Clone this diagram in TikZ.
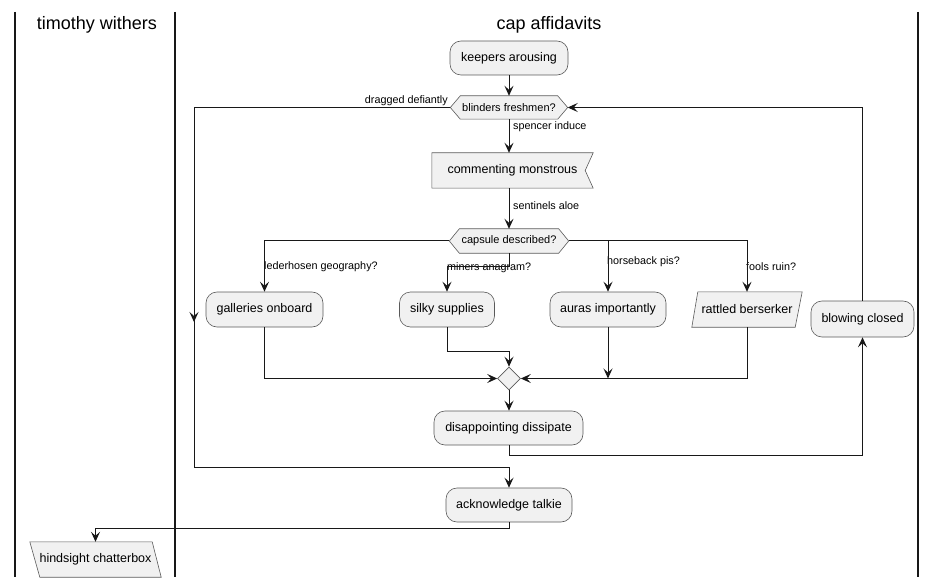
\documentclass[tikz,border=0pt]{standalone}
\usepackage{fontspec}
\setmainfont{Liberation Sans}
\usetikzlibrary{arrows.meta,backgrounds,shapes.geometric}
\definecolor{boxfill}{HTML}{F1F1F1}
\definecolor{boxline}{HTML}{5A5A5A}
\definecolor{ink}{HTML}{181818}
\tikzset{
  lane/.style={draw=ink, line width=1.5pt},
  title/.style={font=\fontsize{18}{21}\selectfont, text=black, inner sep=0pt},
  rbox/.style={draw=boxline, fill=boxfill, line width=0.6pt, rounded corners=11pt,
    inner sep=0pt, font=\fontsize{12.5}{14}\selectfont, text=black},
  ghost/.style={inner sep=0pt, font=\fontsize{12.5}{14}\selectfont, text=black},
  hexlbl/.style={inner sep=0pt, font=\fontsize{11}{13}\selectfont, text=black},
  shapeline/.style={draw=boxline, fill=boxfill, line width=0.6pt},
  lbl/.style={inner sep=1pt, font=\fontsize{10.8}{12}\selectfont, text=black},
  flow/.style={draw=ink, line width=1pt, -{Stealth[length=10pt,width=9pt,inset=4pt]}},
}
\begin{document}
\begin{tikzpicture}[x=1pt,y=-1pt]
\useasboundingbox (0,0) rectangle (937,588);

% swimlanes
\draw[lane] (15,12) -- (15,577);
\draw[lane] (175,12) -- (175,577);
\draw[lane] (918,12) -- (918,577);
\node[title] (t1) at (97,25) {timothy withers};
\node[title] (t2) at (549,25) {cap affidavits};

% nodes
\node[rbox, minimum width=118pt, minimum height=34pt] (keep) at (509,58) {keepers arousing};
\node[hexlbl, minimum width=117pt, minimum height=23pt] (b1) at (509,107.5) {blinders freshmen?};
\node[ghost, minimum width=161pt, minimum height=35pt] (cm) at (512.5,170.5) {commenting monstrous\hspace{8pt}};
\node[hexlbl, minimum width=119pt, minimum height=24pt] (cap) at (509,241) {capsule described?};
\node[rbox, minimum width=117pt, minimum height=35pt] (gal) at (264.5,309.5) {galleries onboard};
\node[rbox, minimum width=95pt, minimum height=35pt] (silk) at (447,309.5) {silky supplies};
\node[rbox, minimum width=116pt, minimum height=35pt] (aur) at (608,309.5) {auras importantly};
\node[ghost, minimum width=110pt, minimum height=35pt] (rat) at (747,309.5) {rattled berserker};
\node[rbox, minimum width=103pt, minimum height=36pt] (blow) at (862.5,319) {blowing closed};
\node[diamond, draw=boxline, fill=boxfill, line width=0.6pt, inner sep=0pt, minimum width=23pt, minimum height=23pt] (mg) at (509,378.5) {};
\node[rbox, minimum width=149pt, minimum height=34pt] (dis) at (508.5,428) {disappointing dissipate};
\node[rbox, minimum width=126pt, minimum height=34pt] (ack) at (509,505) {acknowledge talkie};
\node[ghost, minimum width=131pt, minimum height=35pt] (hind) at (95.5,559.5) {hindsight chatterbox};

% custom outlines behind texts
\begin{scope}[on background layer]
\draw[shapeline] (b1.west) -- ([xshift=10pt]b1.north west) -- ([xshift=-10pt]b1.north east)
  -- (b1.east) -- ([xshift=-10pt]b1.south east) -- ([xshift=10pt]b1.south west) -- cycle;
\draw[shapeline] (cap.west) -- ([xshift=10pt]cap.north west) -- ([xshift=-10pt]cap.north east)
  -- (cap.east) -- ([xshift=-10pt]cap.south east) -- ([xshift=10pt]cap.south west) -- cycle;
\draw[shapeline] (cm.north west) -- (cm.north east) -- ([xshift=-8pt]cm.east)
  -- (cm.south east) -- (cm.south west) -- cycle;
\draw[shapeline] ([xshift=6pt]rat.north west) -- (rat.north east)
  -- ([xshift=-7pt]rat.south east) -- (rat.south west) -- cycle;
\draw[shapeline] (hind.north west) -- ([xshift=-9pt]hind.north east)
  -- (hind.south east) -- ([xshift=10pt]hind.south west) -- cycle;
\end{scope}

% labels
\node[lbl, anchor=base east] (ldrag) at (449,104) {dragged defiantly};
\node[lbl, anchor=west] (lsp) at (512,127) {spencer induce};
\node[lbl, anchor=west] (lsa) at (512,206) {sentinels aloe};
\node[lbl, anchor=west] (lled) at (263,267) {lederhosen geography?};
\node[lbl, anchor=west] (lmin) at (446,268) {miners anagram?};
\node[lbl, anchor=west] (lhor) at (606,262) {horseback pis?};
\node[lbl, anchor=west] (lfoo) at (745,267) {fools ruin?};

% connectors
\coordinate (lt) at (194,107.5);
\coordinate (lm) at (194,322);
\coordinate (lb) at (194,467);
\draw[flow] (keep.south) -- (b1.north);
\draw[flow] (b1.south) -- (cm.north -| b1.south);
\draw[flow] (cm.south -| b1.south) -- (cap.north);
\draw[flow] (cap.west) -| (gal.north);
\draw[flow] (cap.south) -- ++(0,13) -| (silk.north);
\draw[flow] (cap.east) -| (rat.north);
\draw[flow] (aur.north |- cap.east) -- (aur.north);
\draw[flow] (gal.south) |- (mg.west);
\draw[flow] (silk.south) -- ++(0,24) -| (mg.north);
\draw[flow] (aur.south) -- (aur.south |- mg.east);
\draw[flow] (rat.south) |- (mg.east);
\draw[flow] (mg.south) -- (dis.north -| mg.south);
\draw[flow] (dis.south -| mg.south) -- ++(0,10) -| (blow.south);
\draw[flow] (blow.north) |- (b1.east);
\draw[flow] (b1.west) -- (lt) -- (lb) -| (ack.north);
\draw[flow] (lt) -- (lm);
\draw[flow] (ack.south) -- ++(0,6) -| (hind.north);
\end{tikzpicture}
\end{document}
